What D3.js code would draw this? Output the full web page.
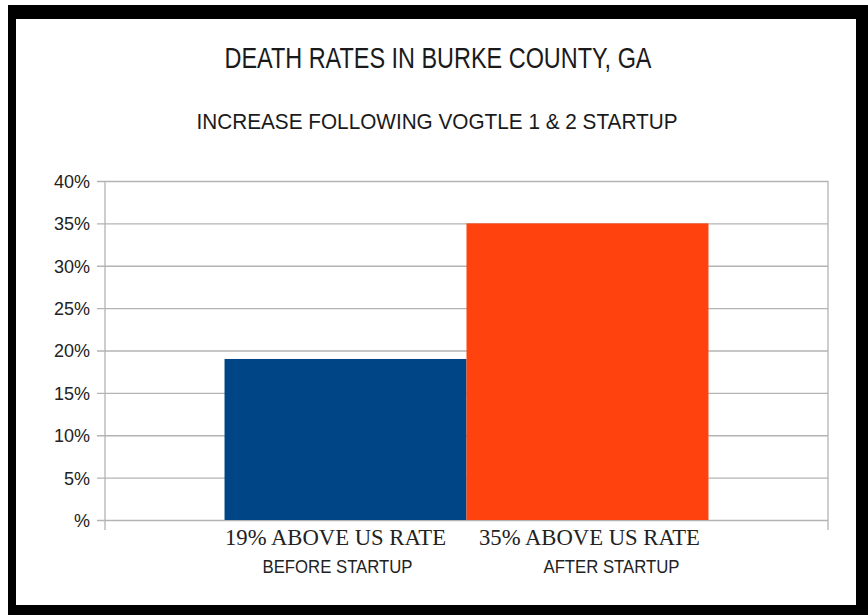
<!DOCTYPE html>
<html>
<head>
<meta charset="utf-8">
<script src="https://cdn.jsdelivr.net/npm/d3@7"></script>
<style>
  body { margin: 0; background: #fff; }
  svg { display: block; }
</style>
</head>
<body>
<div class="vizHolder"></div>
<script>
var width = 868, height = 615;

var categories = ["19% ABOVE US RATE", "35% ABOVE US RATE"];
var subLabels = ["BEFORE STARTUP", "AFTER STARTUP"];
var values = [19, 35];
var barColors = ["#004586", "#ff420e"];
var tickValues = [0, 5, 10, 15, 20, 25, 30, 35, 40];
var tickLabels = ["%", "5%", "10%", "15%", "20%", "25%", "30%", "35%", "40%"];

var plot = {left: 105, right: 828, top: 181, bottom: 520};

var svg = d3.select(".vizHolder")
            .append("svg")
            .attr("width", width)
            .attr("height", height);

// black frame
svg.append("rect")
   .attr("x", 8).attr("y", 5)
   .attr("width", width - 8).attr("height", height - 5)
   .attr("fill", "#000");
svg.append("rect")
   .attr("x", 16).attr("y", 19)
   .attr("width", 840).attr("height", 586)
   .attr("fill", "#fff");

var xScale = d3.scaleBand()
               .domain(categories)
               .range([plot.left, plot.right])
               .paddingInner(0)
               .paddingOuter(0.494);
var yScale = d3.scaleLinear()
               .domain([0, 40])
               .range([plot.bottom, plot.top]);

// gridlines + y axis
var yAxis = d3.axisLeft(yScale)
              .tickValues(tickValues)
              .tickSize(-(plot.right - plot.left + 8))
              .tickPadding(7)
              .tickFormat(function(d, i) { return tickLabels[i]; });

var gy = svg.append("g")
    .attr("transform", "translate(" + plot.right + ",0)")
    .call(yAxis);
gy.select(".domain").remove();
gy.selectAll(".tick line")
  .attr("x1", -(plot.right - plot.left + 8))
  .attr("x2", 0)
  .attr("stroke", "#b3b3b3")
  .attr("stroke-width", 1.3);
gy.selectAll(".tick text")
  .attr("x", -(plot.right - plot.left + 15))
  .attr("dy", "0.36em")
  .style("font-family", "'Liberation Sans', Arial, sans-serif")
  .style("font-size", "18px")
  .attr("fill", "#222");

// left and right vertical frame lines
[plot.left, plot.right].forEach(function(x) {
    svg.append("line")
       .attr("x1", x).attr("x2", x)
       .attr("y1", plot.top).attr("y2", plot.bottom + 10)
       .attr("stroke", "#b3b3b3")
       .attr("stroke-width", 1.3);
});

// bars
svg.selectAll(".bar")
   .data(values)
   .enter().append("rect")
   .attr("class", "bar")
   .attr("x", function(d, i) { return xScale(categories[i]); })
   .attr("width", xScale.bandwidth())
   .attr("y", function(d) { return yScale(d); })
   .attr("height", function(d) { return yScale(0) - yScale(d); })
   .attr("fill", function(d, i) { return barColors[i]; });

// category labels (serif, condensed)
svg.selectAll(".cat")
   .data(categories)
   .enter().append("text")
   .attr("class", "cat")
   .attr("x", function(d) { return xScale(d) + xScale.bandwidth() / 2; })
   .attr("dx", function(d, i) { return i ? 2 : -10; })
   .attr("y", 545)
   .attr("text-anchor", "middle")
   .attr("textLength", 221)
   .attr("lengthAdjust", "spacingAndGlyphs")
   .style("font-family", "'Liberation Serif', 'Times New Roman', serif")
   .style("font-size", "24px")
   .attr("fill", "#222")
   .text(function(d) { return d; });

svg.selectAll(".sub")
   .data(subLabels)
   .enter().append("text")
   .attr("class", "sub")
   .attr("x", function(d, i) { return xScale(categories[i]) + xScale.bandwidth() / 2; })
   .attr("dx", function(d, i) { return i ? 24 : -8; })
   .attr("y", 573)
   .attr("text-anchor", "middle")
   .attr("textLength", function(d, i) { return i ? 136 : 150; })
   .attr("lengthAdjust", "spacingAndGlyphs")
   .style("font-family", "'Liberation Sans', Arial, sans-serif")
   .style("font-size", "18px")
   .attr("fill", "#222")
   .text(function(d) { return d; });

// titles
svg.append("text")
   .attr("x", 438)
   .attr("y", 68)
   .attr("text-anchor", "middle")
   .attr("textLength", 427)
   .attr("lengthAdjust", "spacingAndGlyphs")
   .style("font-family", "'Liberation Sans', Arial, sans-serif")
   .style("font-size", "30px")
   .attr("fill", "#1a1a1a")
   .text("DEATH RATES IN BURKE COUNTY, GA");

svg.append("text")
   .attr("x", 437)
   .attr("y", 129)
   .attr("text-anchor", "middle")
   .attr("textLength", 481)
   .attr("lengthAdjust", "spacingAndGlyphs")
   .style("font-family", "'Liberation Sans', Arial, sans-serif")
   .style("font-size", "22px")
   .attr("fill", "#1a1a1a")
   .text("INCREASE FOLLOWING VOGTLE 1 & 2 STARTUP");
</script>
</body>
</html>
